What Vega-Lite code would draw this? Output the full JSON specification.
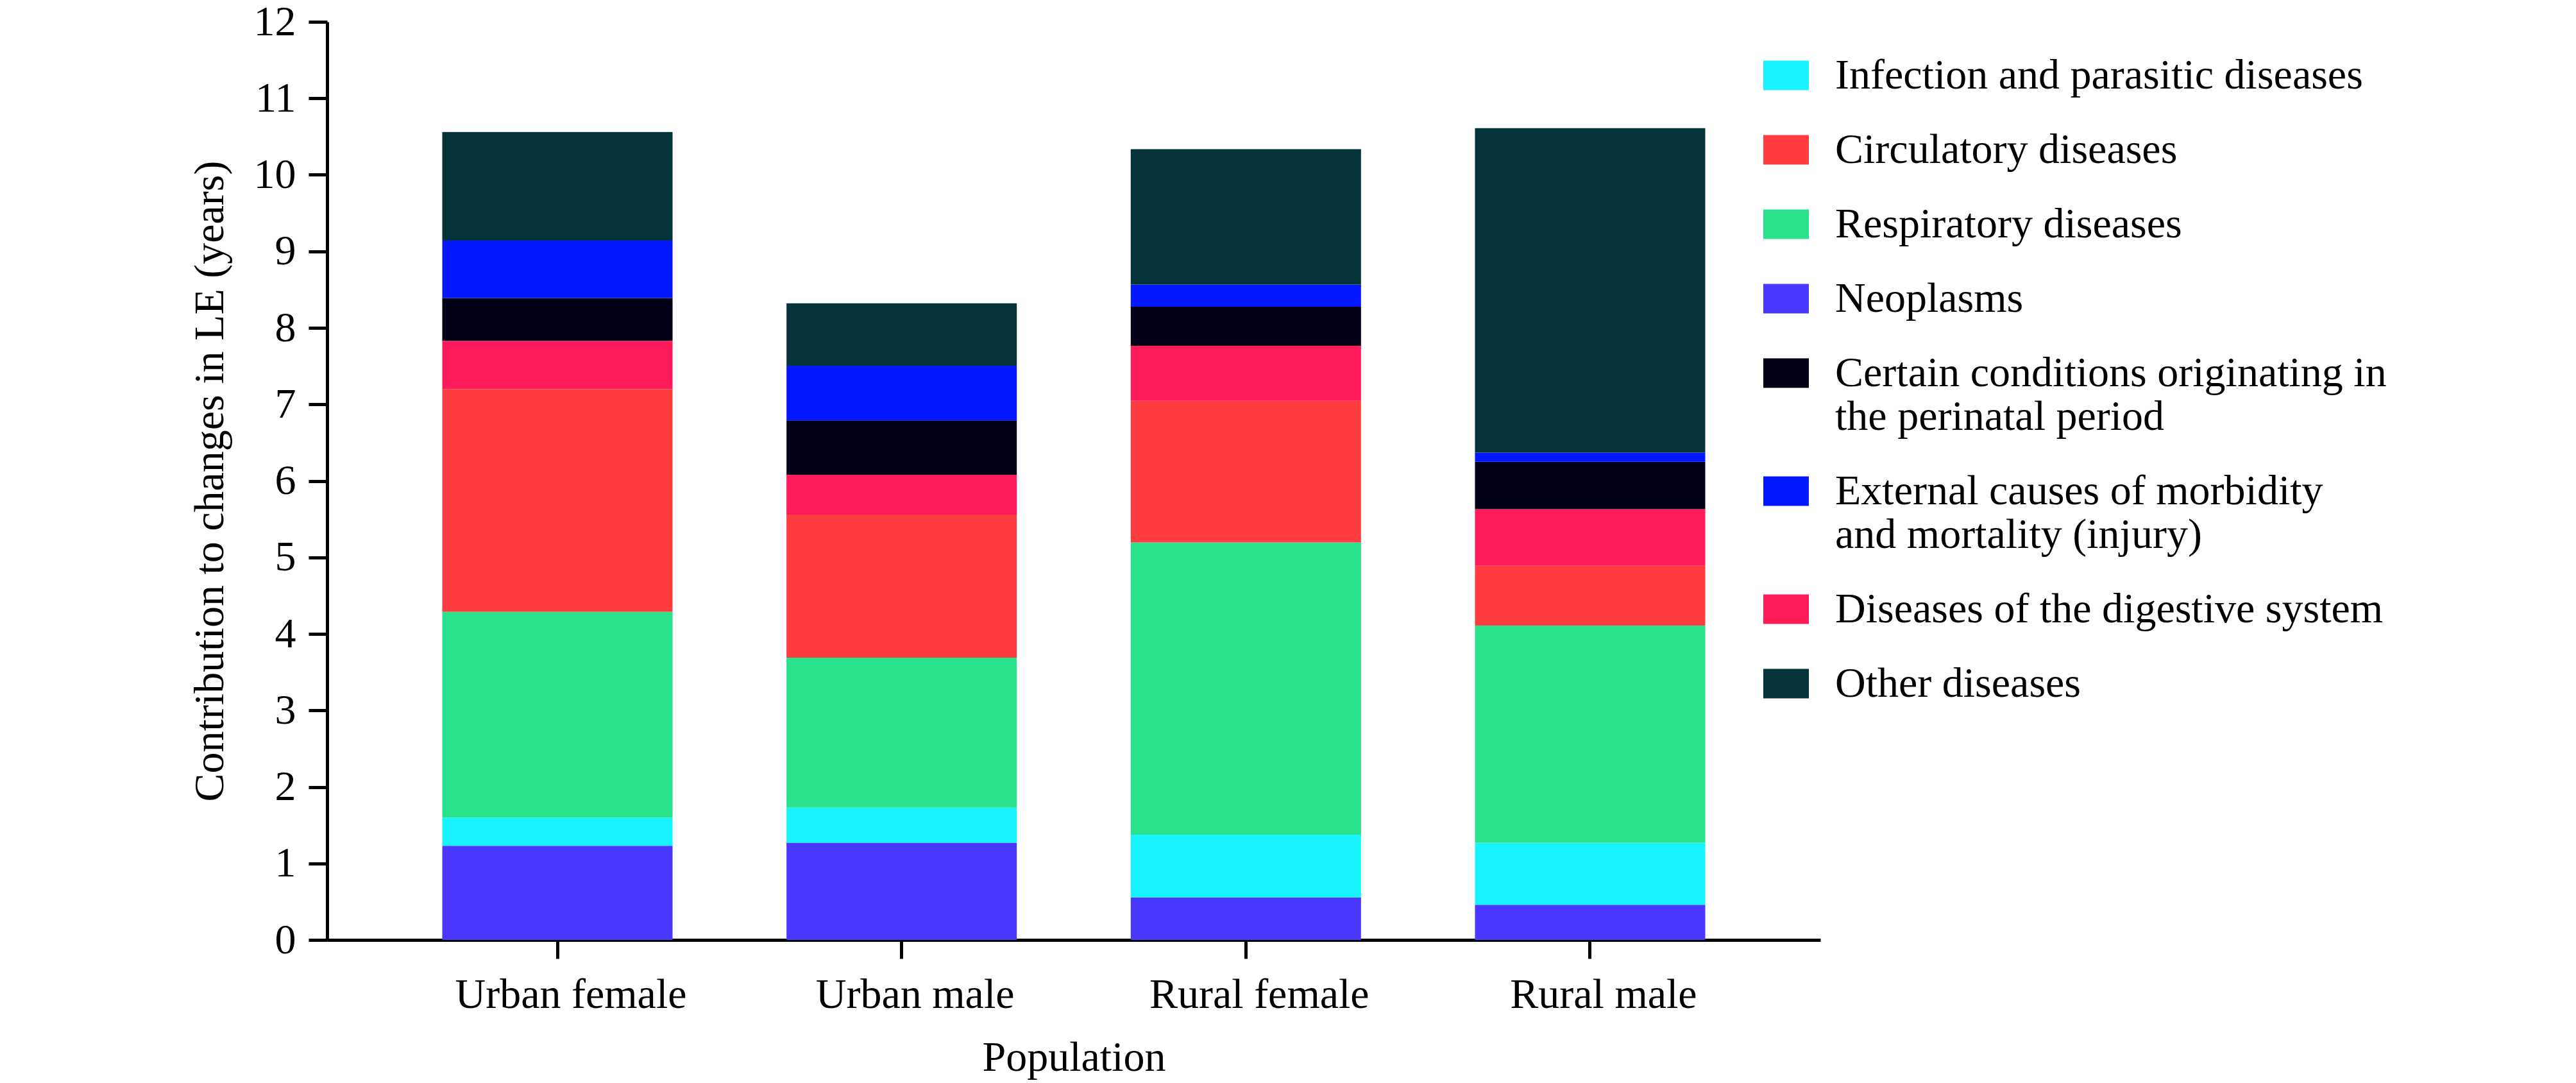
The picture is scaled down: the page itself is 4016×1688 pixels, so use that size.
{
  "$schema": "https://vega.github.io/schema/vega-lite/v6.json",
  "width": 2328,
  "height": 1431,
  "autosize": {"type": "none"},
  "padding": {"left": 510, "top": 34, "right": 1178, "bottom": 223},
  "background": "white",
  "config": {"view": {"stroke": null}},
  "data": {
    "values": [
      {"population": "Urban female", "cause": "Neoplasms", "value": 1.23},
      {"population": "Urban female", "cause": "Infection and parasitic diseases", "value": 0.37},
      {"population": "Urban female", "cause": "Respiratory diseases", "value": 2.69},
      {"population": "Urban female", "cause": "Circulatory diseases", "value": 2.91},
      {"population": "Urban female", "cause": "Diseases of the digestive system", "value": 0.63},
      {"population": "Urban female", "cause": "Certain conditions originating in the perinatal period", "value": 0.56},
      {"population": "Urban female", "cause": "External causes of morbidity and mortality (injury)", "value": 0.75},
      {"population": "Urban female", "cause": "Other diseases", "value": 1.42},

      {"population": "Urban male", "cause": "Neoplasms", "value": 1.27},
      {"population": "Urban male", "cause": "Infection and parasitic diseases", "value": 0.46},
      {"population": "Urban male", "cause": "Respiratory diseases", "value": 1.96},
      {"population": "Urban male", "cause": "Circulatory diseases", "value": 1.87},
      {"population": "Urban male", "cause": "Diseases of the digestive system", "value": 0.52},
      {"population": "Urban male", "cause": "Certain conditions originating in the perinatal period", "value": 0.71},
      {"population": "Urban male", "cause": "External causes of morbidity and mortality (injury)", "value": 0.715},
      {"population": "Urban male", "cause": "Other diseases", "value": 0.815},

      {"population": "Rural female", "cause": "Neoplasms", "value": 0.556},
      {"population": "Rural female", "cause": "Infection and parasitic diseases", "value": 0.82},
      {"population": "Rural female", "cause": "Respiratory diseases", "value": 3.82},
      {"population": "Rural female", "cause": "Circulatory diseases", "value": 1.85},
      {"population": "Rural female", "cause": "Diseases of the digestive system", "value": 0.72},
      {"population": "Rural female", "cause": "Certain conditions originating in the perinatal period", "value": 0.51},
      {"population": "Rural female", "cause": "External causes of morbidity and mortality (injury)", "value": 0.29},
      {"population": "Rural female", "cause": "Other diseases", "value": 1.77},

      {"population": "Rural male", "cause": "Neoplasms", "value": 0.46},
      {"population": "Rural male", "cause": "Infection and parasitic diseases", "value": 0.81},
      {"population": "Rural male", "cause": "Respiratory diseases", "value": 2.84},
      {"population": "Rural male", "cause": "Circulatory diseases", "value": 0.78},
      {"population": "Rural male", "cause": "Diseases of the digestive system", "value": 0.74},
      {"population": "Rural male", "cause": "Certain conditions originating in the perinatal period", "value": 0.62},
      {"population": "Rural male", "cause": "External causes of morbidity and mortality (injury)", "value": 0.12},
      {"population": "Rural male", "cause": "Other diseases", "value": 4.24}
    ]
  },
  "transform": [
    {"calculate": "indexof(['Neoplasms','Infection and parasitic diseases','Respiratory diseases','Circulatory diseases','Diseases of the digestive system','Certain conditions originating in the perinatal period','External causes of morbidity and mortality (injury)','Other diseases'], datum.cause)", "as": "stack_order"}
  ],
  "mark": {"type": "bar", "stroke": null},
  "encoding": {
    "x": {
      "field": "population",
      "type": "nominal",
      "sort": ["Urban female", "Urban male", "Rural female", "Rural male"],
      "scale": {"paddingInner": 0.331, "paddingOuter": 0.3345},
      "axis": {
        "title": "Population",
        "titleFont": "Liberation Serif",
        "titleFontSize": 66,
        "titleFontWeight": "normal",
        "titleColor": "black",
        "titlePadding": 33,
        "labelFont": "Liberation Serif",
        "labelFontSize": 66,
        "labelColor": "black",
        "labelAngle": 0,
        "labelPadding": 24,
        "labelOffset": 21,
        "labelLimit": 1000,
        "domainColor": "black",
        "domainWidth": 5,
        "tickColor": "black",
        "tickWidth": 5,
        "tickSize": 29,
        "grid": false
      }
    },
    "y": {
      "field": "value",
      "type": "quantitative",
      "stack": "zero",
      "scale": {"domain": [0, 12], "nice": false},
      "axis": {
        "title": "Contribution to changes in LE (years)",
        "titleFont": "Liberation Serif",
        "titleFontSize": 66,
        "titleFontWeight": "normal",
        "titleColor": "black",
        "titlePadding": 34,
        "values": [0, 1, 2, 3, 4, 5, 6, 7, 8, 9, 10, 11, 12],
        "format": "d",
        "labelFont": "Liberation Serif",
        "labelFontSize": 66,
        "labelColor": "black",
        "labelPadding": 20,
        "domainColor": "black",
        "domainWidth": 5,
        "tickColor": "black",
        "tickWidth": 5,
        "tickSize": 29,
        "grid": false
      }
    },
    "order": {"field": "stack_order", "type": "quantitative"},
    "color": {
      "field": "cause",
      "type": "nominal",
      "scale": {
        "domain": [
          "Infection and parasitic diseases",
          "Circulatory diseases",
          "Respiratory diseases",
          "Neoplasms",
          "Certain conditions originating in the perinatal period",
          "External causes of morbidity and mortality (injury)",
          "Diseases of the digestive system",
          "Other diseases"
        ],
        "range": ["#19F2FF", "#FF3C40", "#2AE28C", "#4A38FF", "#020018", "#0318FF", "#FF1A5A", "#04333A"]
      },
      "legend": {
        "title": null,
        "orient": "none",
        "legendX": 2239,
        "legendY": 48,
        "padding": 0,
        "symbolType": "M-1,-0.65H1V0.65H-1Z",
        "symbolSize": 5041,
        "symbolStrokeWidth": 0,
        "labelFont": "Liberation Serif",
        "labelFontSize": 66,
        "labelLineHeight": 67,
        "labelColor": "black",
        "labelLimit": 3000,
        "labelOffset": 41,
        "rowPadding": 47,
        "labelExpr": "datum.label === 'Certain conditions originating in the perinatal period' ? ['Certain conditions originating in', 'the perinatal period'] : datum.label === 'External causes of morbidity and mortality (injury)' ? ['External causes of morbidity', 'and mortality (injury)'] : datum.label"
      }
    }
  }
}
